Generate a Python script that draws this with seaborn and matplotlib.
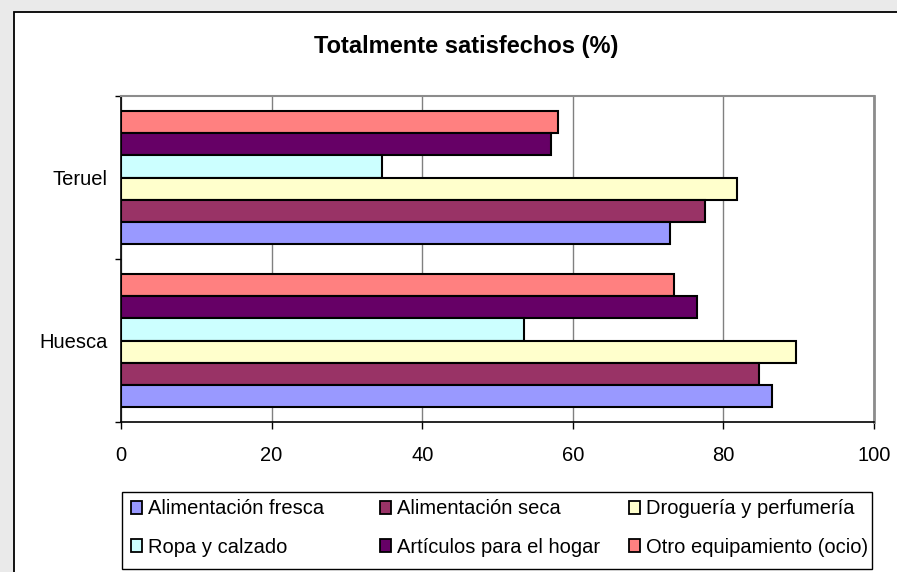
import matplotlib
matplotlib.use("Agg")
import matplotlib.pyplot as plt
import seaborn as sns
import pandas as pd
from matplotlib.patches import Rectangle, Patch
from matplotlib.ticker import FixedLocator

# Survey results: share of fully satisfied customers by sector and province
provincias = ["Teruel", "Huesca"]
sectores = [
    "Alimentación fresca",
    "Alimentación seca",
    "Droguería y perfumería",
    "Ropa y calzado",
    "Artículos para el hogar",
    "Otro equipamiento (ocio)",
]
teruel = [72.9, 77.6, 81.8, 34.6, 57.1, 58.0]
huesca = [86.4, 84.7, 89.7, 53.5, 76.5, 73.5]
colores = ["#9999FF", "#993366", "#FFFFCC", "#CCFFFF", "#660066", "#FF8080"]
x_ticks = [0, 20, 40, 60, 80, 100]
titulo = "Totalmente satisfechos (%)"

df = pd.DataFrame({
    "provincia": [p for p in provincias for _ in sectores],
    "sector": sectores * len(provincias),
    "valor": teruel + huesca,
})

sns.set_theme(style="white")
plt.rcParams["font.family"] = ["Liberation Sans", "DejaVu Sans"]

W, H = 897, 572
fig = plt.figure(figsize=(W / 100, H / 100), dpi=100, facecolor="#EAEAEA")

# white chart area with a black frame
fig.add_artist(Rectangle((14 / W, -0.2), 1.2, 1 - 12 / H + 0.2,
                         transform=fig.transFigure, facecolor="white",
                         edgecolor="black", lw=1.3, zorder=-1))

ax = fig.add_axes([121 / W, 1 - 422 / H, (874 - 121) / W, (422 - 96) / H])
ax.set_facecolor("white")

sns.barplot(data=df, y="provincia", x="valor", hue="sector",
            order=provincias, hue_order=sectores[::-1],
            palette=dict(zip(sectores, colores)), orient="h",
            width=0.82, saturation=1, edgecolor="black", linewidth=1.5,
            legend=False, ax=ax)

ax.set_xlim(0, 100)
ax.set_xlabel("")
ax.set_ylabel("")
ax.set_xticks(x_ticks)
ax.set_xticklabels([str(t) for t in x_ticks])
ax.xaxis.grid(True, color="#808080", lw=1)
ax.yaxis.grid(False)
ax.set_axisbelow(True)

for side in ("left", "bottom"):
    ax.spines[side].set_color("black")
    ax.spines[side].set_linewidth(1.2)
ax.spines["top"].set_color("#8C8C8C")
ax.spines["top"].set_linewidth(1.5)
ax.spines["right"].set_color("#8C8C8C")
ax.spines["right"].set_linewidth(2)

ax.tick_params(axis="x", bottom=True, direction="out", length=5, width=1,
               color="black", pad=12.5, labelsize=14.5, labelcolor="black")
ax.set_yticks([0, 1])
ax.set_yticklabels(provincias)
ax.tick_params(axis="y", which="major", left=True, length=0, pad=9.5,
               labelsize=14.5, labelcolor="black")
ax.yaxis.set_minor_locator(FixedLocator([-0.5, 0.5, 1.5]))
ax.tick_params(axis="y", which="minor", left=True, direction="out",
               length=4, width=1, color="black")

fig.text(466 / W, 1 - 53.5 / H, titulo, ha="center", va="baseline",
         fontsize=17, fontweight="bold", color="black")

# legend: framed box with three fixed-width columns, entries in row order
fig.add_artist(Rectangle((122 / W, 1 - 569 / H), (872 - 122) / W, (569 - 492) / H,
                         transform=fig.transFigure, facecolor="white",
                         edgecolor="black", lw=1.0, zorder=1))
col_x = [131, 380, 629]
for c, x0 in enumerate(col_x):
    idx = [c, c + 3]
    handles = [Patch(facecolor=colores[i], edgecolor="black", lw=1.3) for i in idx]
    labels = [sectores[i] for i in idx]
    leg = fig.legend(handles, labels, loc="center left",
                     bbox_to_anchor=(x0 / W, 1 - 528 / H),
                     bbox_transform=fig.transFigure, frameon=False,
                     borderaxespad=0, borderpad=0, handlelength=0.56,
                     handleheight=0.6, handletextpad=0.3, labelspacing=0.95,
                     fontsize=14.5)
    leg.set_zorder(2)
    for t in leg.get_texts():
        t.set_color("black")

fig.savefig("out.png", dpi=100, facecolor=fig.get_facecolor())
